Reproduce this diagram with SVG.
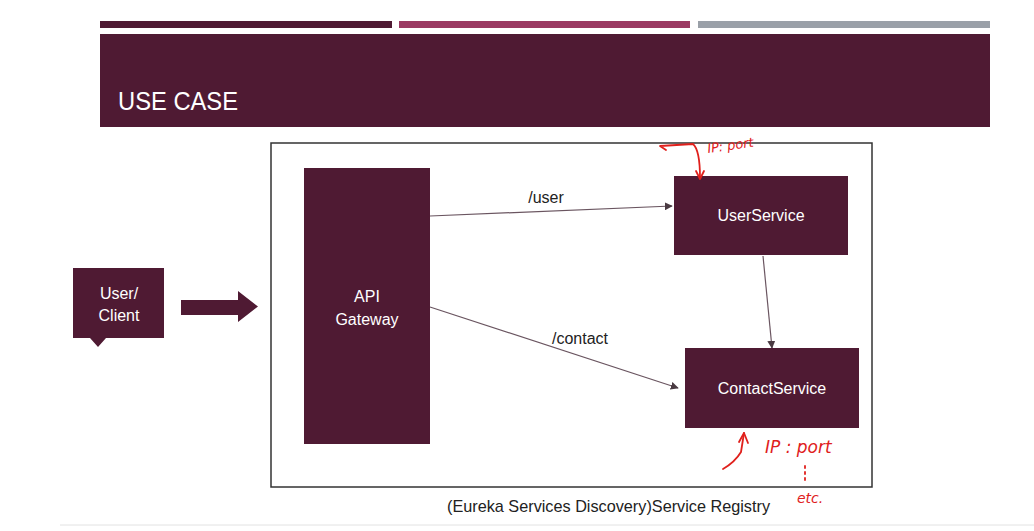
<svg xmlns="http://www.w3.org/2000/svg" width="1034" height="531" viewBox="0 0 1034 531">
<defs>
<style>
.node{fill:#4f1a33}
.lbl{font-family:"Liberation Sans","DejaVu Sans",sans-serif;font-size:16px;fill:#ffffff;text-anchor:middle}
.edge{stroke:#6a5560;stroke-width:1.2;fill:none}
.elbl{font-family:"Liberation Sans","DejaVu Sans",sans-serif;font-size:16px;fill:#222;text-anchor:middle}
.red{stroke:#e0201c;stroke-width:1.8;fill:none;stroke-linecap:round;stroke-linejoin:round}
.redt{font-family:"DejaVu Sans",sans-serif;font-style:italic;fill:#e0201c}
</style>
<marker id="ah" viewBox="0 0 10 10" refX="9" refY="5" markerWidth="8" markerHeight="8" markerUnits="userSpaceOnUse" orient="auto"><path d="M0,0 L10,5 L0,10 z" fill="#4a3a42"/></marker>
</defs>
<rect width="1034" height="531" fill="#ffffff"/>
<line x1="60" y1="525" x2="1034" y2="525" stroke="#e2e2e2" stroke-width="1"/>
<g id="header">
<rect x="100" y="21" width="292" height="7" fill="#4f1a33"/>
<rect x="399" y="21" width="291" height="7" fill="#9b3a63"/>
<rect x="698" y="21" width="292" height="7" fill="#9aa0a8"/>
<rect x="100" y="34" width="890" height="93" fill="#4f1a33"/>
<text x="118" y="110" font-family="Liberation Sans Narrow,Liberation Sans,sans-serif" font-size="25" fill="#ffffff" textLength="120" lengthAdjust="spacingAndGlyphs">USE CASE</text>
</g>
<rect id="frame" x="271" y="143" width="601" height="344" fill="none" stroke="#333" stroke-width="1.5"/>
<g id="edges">
<line class="edge" x1="430" y1="216" x2="672" y2="206" marker-end="url(#ah)"/>
<line class="edge" x1="430" y1="307" x2="678" y2="388" marker-end="url(#ah)"/>
<line class="edge" x1="763" y1="256" x2="772" y2="348" marker-end="url(#ah)"/>
<path d="M181,300 H238 V291 L258,306.5 L238,322 V315 H181 Z" fill="#4f1a33"/>
<text class="elbl" x="546" y="203">/user</text>
<text class="elbl" x="580" y="344">/contact</text>
</g>
<g id="client">
<path class="node" d="M73,268 H164 V338 H106 L98,347 L90,338 H73 Z"/>
<text class="lbl" x="119" y="299">User/</text>
<text class="lbl" x="119" y="321">Client</text>
</g>
<g id="gateway">
<rect class="node" x="304" y="168" width="126" height="276"/>
<text class="lbl" x="367" y="302">API</text>
<text class="lbl" x="367" y="325">Gateway</text>
</g>
<g id="userservice">
<rect class="node" x="674" y="176" width="174" height="79"/>
<text class="lbl" x="761" y="221">UserService</text>
</g>
<g id="contactservice">
<rect class="node" x="685" y="348" width="174" height="80"/>
<text class="lbl" x="772" y="394">ContactService</text>
</g>
<text x="447" y="512" font-family="Liberation Sans,sans-serif" font-size="17" fill="#222" textLength="323" lengthAdjust="spacingAndGlyphs">(Eureka Services Discovery)Service Registry</text>
<g id="annotations">
<path class="red" d="M666,150 L660,146 L693,144 Q700,150 700,178"/>
<path class="red" d="M696,171 L700,179 L704,171"/>
<text class="redt" x="708" y="153" font-size="13" transform="rotate(-8 708 153)">IP: port</text>
<path class="red" d="M723,469 Q735,462 741,452 L744,433"/>
<path class="red" d="M739,442 L744,433 L748,443"/>
<text class="redt" x="765" y="453" font-size="17">IP : port</text>
<path class="red" d="M805,466 V482" stroke-dasharray="2 4"/>
<text class="redt" x="797" y="503" font-size="14">etc.</text>
</g>
</svg>
